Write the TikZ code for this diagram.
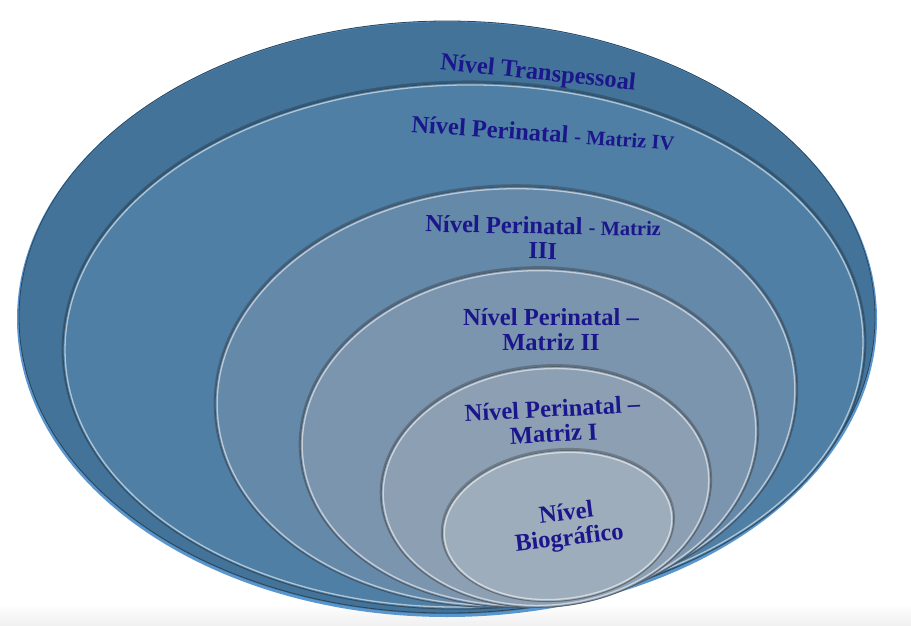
\documentclass[tikz,border=0pt]{standalone}
\usepackage{fontspec}
\setmainfont{Liberation Serif}
\definecolor{navy}{RGB}{28,22,140}
\definecolor{cA}{RGB}{68,115,154}
\definecolor{cB}{RGB}{79,127,164}
\definecolor{cC}{RGB}{101,137,169}
\definecolor{cD}{RGB}{123,149,174}
\definecolor{cE}{RGB}{140,159,179}
\definecolor{cF}{RGB}{157,173,187}
\definecolor{rim}{RGB}{88,150,205}
\newcommand{\myring}[6]{%
  \path[draw=#6!55!black, draw opacity=0.55, line width=3pt, rotate around={#5:(#1,#2)}]
     (#1,#2-1) ellipse [x radius=#3, y radius=#4];
  \path[fill=#6, rotate around={#5:(#1,#2)}]
     (#1,#2) ellipse [x radius=#3, y radius=#4];
  \path[draw=#6!60!black, line width=0.8pt, rotate around={#5:(#1,#2)}]
     (#1,#2) ellipse [x radius=#3, y radius=#4];
  \path[draw=white!55!#6, line width=1.3pt, rotate around={#5:(#1,#2)}]
     (#1,#2) ellipse [x radius=#3-2, y radius=#4-2];
}
\tikzset{
  lbl/.style={text=navy, font=\fontsize{24.5}{25}\selectfont\bfseries, align=center, inner sep=0pt},
}
\newcommand{\smallpart}[1]{{\fontsize{20.5}{25}\selectfont #1}}
\begin{document}
\begin{tikzpicture}[x=1pt,y=-1pt]
\useasboundingbox (0,0) rectangle (911,626);
\shade[top color=white, bottom color=gray!12] (0,604) rectangle (911,626);
% outer ring with bright rim
\path[draw=rim, line width=4pt] (447,319) ellipse [x radius=428, y radius=296];
\path[fill=cA] (447,318) ellipse [x radius=428, y radius=296];
\path[draw=cA!60!black, line width=0.8pt] (447,317) ellipse [x radius=428, y radius=296];
\myring{464}{346}{401}{263}{1}{cB}
\myring{506}{397}{291}{210}{3}{cC}
\myring{529}{438}{229}{169}{4}{cD}
\myring{546}{487}{165}{120}{5}{cE}
\myring{558}{526}{116}{75}{6}{cF}
% labels
\node[lbl, rotate=-6] (t1) at (538,74) {Nível Transpessoal};
\node[lbl, rotate=-4] (t2) at (543,133) {Nível Perinatal \smallpart{- Matriz IV}};
\node[lbl, rotate=-1] (t3) at (543,238) {Nível Perinatal \smallpart{- Matriz}\\III};
\node[lbl] (t4) at (551,330) {Nível Perinatal –\\Matriz II};
\node[lbl, rotate=3] (t5) at (553,421) {Nível Perinatal –\\Matriz I};
\node[lbl, rotate=7] (t6) at (568,527) {Nível\\Biográfico};
\end{tikzpicture}
\end{document}
